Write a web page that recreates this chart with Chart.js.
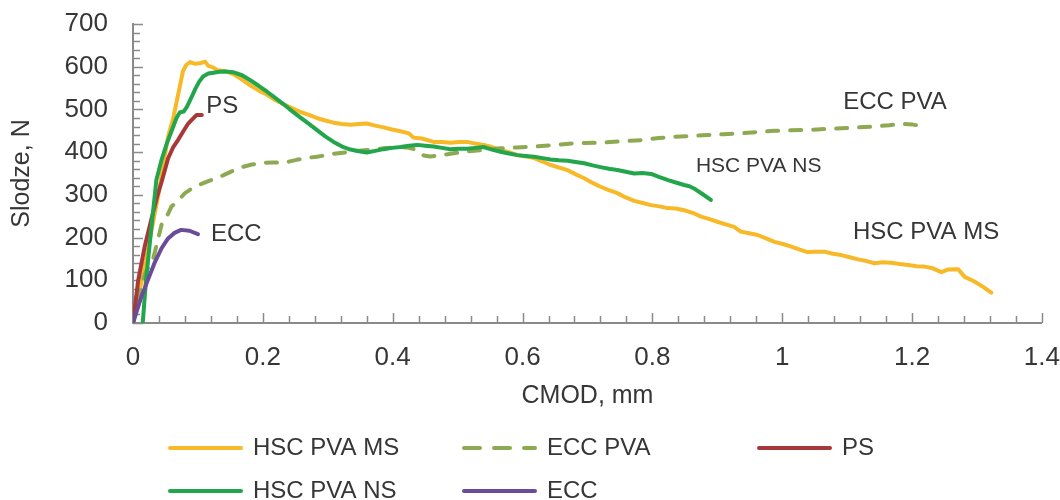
<!DOCTYPE html>
<html>
<head>
<meta charset="utf-8">
<script src="https://cdn.jsdelivr.net/npm/chart.js"></script>
<style>
  html, body { margin: 0; padding: 0; background: #fff; }
  #wrap { width: 1060px; height: 500px; position: relative; }
</style>
</head>
<body>
<div id="wrap"><canvas id="chart"></canvas></div>
<script>
// CMOD (mm) vs load (N) curves
const msX = [0, 0.02, 0.039, 0.054, 0.062, 0.07, 0.077, 0.082, 0.088, 0.095, 0.103, 0.111, 0.116, 0.124, 0.13, 0.142, 0.155, 0.168, 0.181, 0.194, 0.206, 0.219, 0.232, 0.245, 0.258, 0.271, 0.283, 0.296, 0.309, 0.322, 0.335, 0.348, 0.36, 0.373, 0.386, 0.399, 0.412, 0.425, 0.432, 0.445, 0.463, 0.476, 0.489, 0.502, 0.515, 0.527, 0.54, 0.553, 0.566, 0.579, 0.592, 0.605, 0.618, 0.631, 0.643, 0.656, 0.669, 0.682, 0.695, 0.708, 0.72, 0.733, 0.746, 0.759, 0.772, 0.785, 0.798, 0.811, 0.823, 0.836, 0.849, 0.862, 0.875, 0.888, 0.9, 0.913, 0.926, 0.936, 0.949, 0.962, 0.975, 0.988, 1.001, 1.014, 1.027, 1.039, 1.052, 1.065, 1.078, 1.091, 1.104, 1.117, 1.13, 1.142, 1.155, 1.168, 1.181, 1.194, 1.207, 1.219, 1.232, 1.245, 1.255, 1.271, 1.281, 1.296, 1.31, 1.322];
const msY = [0, 150, 300, 436, 480, 538, 590, 604, 611, 607, 608, 612, 602, 598, 592, 590, 582, 570, 556, 544, 535, 522, 512, 503, 494, 487, 480, 474, 469, 466, 464, 466, 467, 462, 458, 453, 449, 444, 434, 432, 424, 424, 422, 424, 424, 420, 417, 412, 405, 400, 393, 390, 386, 378, 370, 364, 358, 348, 339, 328, 319, 311, 304, 294, 286, 281, 276, 273, 269, 268, 264, 258, 249, 243, 237, 231, 225, 214, 210, 206, 198, 190, 185, 179, 172, 166, 167, 167, 162, 159, 154, 149, 145, 140, 142, 141, 138, 136, 133, 132, 128, 119, 125, 126, 108, 97, 84, 71];

const eccPvaX = [0, 0.008, 0.013, 0.02, 0.031, 0.044, 0.052, 0.059, 0.07, 0.08, 0.09, 0.1, 0.114, 0.129, 0.142, 0.155, 0.168, 0.183, 0.2, 0.215, 0.232, 0.252, 0.27, 0.283, 0.309, 0.335, 0.36, 0.386, 0.412, 0.425, 0.438, 0.448, 0.458, 0.472, 0.489, 0.515, 0.54, 0.566, 0.592, 0.618, 0.65, 0.684, 0.72, 0.75, 0.782, 0.81, 0.834, 0.86, 0.885, 0.91, 0.936, 0.962, 0.988, 1.013, 1.039, 1.065, 1.091, 1.117, 1.142, 1.165, 1.183, 1.2, 1.214];
const eccPvaY = [0, 46, 93, 120, 150, 230, 249, 272, 288, 304, 314, 322, 331, 339, 348, 357, 365, 371, 375, 376, 375, 382, 387, 389, 396, 401, 405, 409, 412, 410, 405, 392, 390, 392, 396, 402, 405, 409, 411, 413, 417, 421, 422, 425, 428, 433, 436, 438, 440, 442, 444, 447, 450, 451, 452, 454, 456, 458, 460, 463, 466, 465, 461];

const psX = [0, 0.008, 0.018, 0.027, 0.037, 0.044, 0.054, 0.062, 0.07, 0.078, 0.085, 0.092, 0.098, 0.106];
const psY = [0, 100, 179, 235, 295, 330, 385, 412, 430, 450, 467, 478, 487, 487];

const nsX = [0.015, 0.02, 0.028, 0.036, 0.044, 0.052, 0.06, 0.067, 0.072, 0.078, 0.083, 0.09, 0.096, 0.102, 0.108, 0.116, 0.124, 0.133, 0.142, 0.155, 0.168, 0.18, 0.193, 0.206, 0.219, 0.232, 0.245, 0.258, 0.271, 0.283, 0.296, 0.309, 0.322, 0.335, 0.348, 0.36, 0.373, 0.386, 0.399, 0.412, 0.425, 0.438, 0.45, 0.463, 0.476, 0.489, 0.502, 0.515, 0.527, 0.54, 0.553, 0.566, 0.579, 0.592, 0.605, 0.618, 0.631, 0.643, 0.656, 0.669, 0.682, 0.695, 0.708, 0.72, 0.733, 0.746, 0.759, 0.772, 0.785, 0.798, 0.81, 0.823, 0.836, 0.849, 0.857, 0.864, 0.877, 0.89];
const nsY = [0, 100, 218, 335, 382, 420, 452, 480, 493, 495, 506, 528, 548, 565, 577, 584, 586, 588, 589, 587, 580, 569, 556, 542, 527, 512, 496, 481, 466, 452, 437, 424, 413, 406, 402, 399, 403, 407, 410, 412, 415, 417, 415, 413, 410, 407, 408, 408, 410, 412, 406, 401, 397, 393, 391, 389, 386, 383, 381, 380, 377, 374, 369, 365, 361, 358, 354, 350, 351, 349, 342, 335, 329, 323, 320, 315, 302, 288];

const eccX = [0, 0.013, 0.023, 0.033, 0.044, 0.054, 0.064, 0.074, 0.087, 0.1];
const eccY = [0, 62, 101, 140, 175, 198, 211, 218, 216, 208];

const seriesNames = ['HSC PVA MS', 'ECC PVA', 'PS', 'HSC PVA NS', 'ECC'];
const seriesColors = ['#F7B928', '#8DAA52', '#A8393B', '#23A64B', '#6A4C98'];

// curve labels placed next to the lines: [text, cmod, load, font size]
const curveLabels = [
  ['PS', 0.113, 506, 24],
  ['ECC', 0.12, 208, 24],
  ['ECC PVA', 1.094, 517, 24],
  ['HSC PVA NS', 0.867, 368, 21],
  ['HSC PVA MS', 1.109, 213, 24]
];

const xTicks = { min: 0, max: 1.4, step: 0.2, minor: 0.04 };
const yTicks = { min: 0, max: 700, step: 100, minor: 20 };

const FONT = '"Liberation Sans", Arial, sans-serif';
const TEXT = '#363636';
const AXIS = '#8a8a8a';
const NONE = 'rgba(0,0,0,0)';

const zip = (xs, ys) => xs.map((x, i) => ({ x: x, y: ys[i] }));
const seriesData = [zip(msX, msY), zip(eccPvaX, eccPvaY), zip(psX, psY), zip(nsX, nsY), zip(eccX, eccY)];

const datasets = seriesNames.map((name, i) => ({
  label: name,
  data: seriesData[i],
  borderColor: seriesColors[i],
  backgroundColor: seriesColors[i],
  borderWidth: 4,
  borderDash: name === 'ECC PVA' ? [11, 12] : [],
  borderCapStyle: 'round',
  borderJoinStyle: 'round',
  pointRadius: 0,
  tension: 0,
  fill: false,
  order: seriesNames.length - i
}));

// small tick marks pointing into the plot, every minor step
const innerTicks = {
  id: 'innerTicks',
  beforeDatasetsDraw(chart) {
    const { ctx, chartArea: area, scales: { x, y } } = chart;
    ctx.save();
    ctx.strokeStyle = AXIS;
    ctx.lineWidth = 1.5;
    ctx.beginPath();
    const nx = Math.round((xTicks.max - xTicks.min) / xTicks.minor);
    const per = Math.round(xTicks.step / xTicks.minor);
    for (let i = 0; i <= nx; i++) {
      const px = Math.round(x.getPixelForValue(xTicks.min + i * xTicks.minor)) + 0.5;
      const len = i % per === 0 ? 10 : 7;
      ctx.moveTo(px, area.bottom);
      ctx.lineTo(px, area.bottom - len);
    }
    const ny = Math.round((yTicks.max - yTicks.min) / yTicks.minor);
    const perY = Math.round(yTicks.step / yTicks.minor);
    for (let i = 0; i <= ny; i++) {
      const py = Math.round(y.getPixelForValue(yTicks.min + i * yTicks.minor)) + 0.5;
      const len = i % perY === 0 ? 10 : 7;
      ctx.moveTo(area.left, py);
      ctx.lineTo(area.left + len, py);
    }
    ctx.stroke();
    ctx.restore();
  }
};

const curveText = {
  id: 'curveText',
  afterDatasetsDraw(chart) {
    const { ctx, scales: { x, y } } = chart;
    ctx.save();
    ctx.fillStyle = TEXT;
    ctx.textAlign = 'left';
    ctx.textBaseline = 'middle';
    curveLabels.forEach(([t, cx, cy, size]) => {
      ctx.font = size + 'px ' + FONT;
      ctx.fillText(t, x.getPixelForValue(cx), y.getPixelForValue(cy));
    });
    ctx.restore();
  }
};

// legend laid out in three columns under the axis title
const gridLegend = {
  id: 'gridLegend',
  afterDraw(chart) {
    const { ctx } = chart;
    const cols = [168, 462, 757];
    const rows = [448, 491];
    const lineLen = 75;
    ctx.save();
    ctx.font = '24px ' + FONT;
    ctx.textBaseline = 'middle';
    ctx.textAlign = 'left';
    chart.data.datasets.forEach((ds, i) => {
      const x0 = cols[i % 3];
      const y0 = rows[Math.floor(i / 3)];
      ctx.strokeStyle = ds.borderColor;
      ctx.lineWidth = 4;
      ctx.lineCap = 'round';
      ctx.setLineDash(ds.borderDash.length ? [16, 14] : []);
      ctx.beginPath();
      ctx.moveTo(x0 + 2, y0);
      ctx.lineTo(x0 + lineLen - 2, y0);
      ctx.stroke();
      ctx.setLineDash([]);
      ctx.fillStyle = TEXT;
      ctx.fillText(ds.label, x0 + lineLen + 10, y0);
    });
    ctx.restore();
  }
};

new Chart(document.getElementById('chart'), {
  type: 'line',
  data: { datasets: datasets },
  options: {
    responsive: true,
    maintainAspectRatio: false,
    animation: false,
    layout: { padding: { top: 24, right: 0, bottom: 87, left: 0 } },
    plugins: {
      legend: { display: false },
      tooltip: { enabled: false }
    },
    scales: {
      x: {
        type: 'linear',
        min: xTicks.min,
        max: xTicks.max,
        afterFit(scale) { scale.height = 90; },
        grid: { color: NONE, drawTicks: true, tickLength: 19 },
        border: { display: true, color: AXIS, width: 2 },
        ticks: {
          stepSize: xTicks.step,
          padding: 0,
          color: TEXT,
          font: { family: FONT, size: 26 },
          maxRotation: 0,
          callback: v => String(Number(v.toFixed(1)))
        },
        title: {
          display: true,
          text: 'CMOD, mm',
          color: TEXT,
          font: { family: FONT, size: 25 },
          padding: { top: 0, bottom: 2 }
        }
      },
      y: {
        type: 'linear',
        min: yTicks.min,
        max: yTicks.max,
        afterFit(scale) { scale.width = 133; },
        grid: { color: NONE, drawTicks: true, tickLength: 22 },
        border: { display: true, color: AXIS, width: 2 },
        ticks: {
          stepSize: yTicks.step,
          padding: 3,
          color: TEXT,
          font: { family: FONT, size: 26 }
        },
        title: {
          display: true,
          text: 'Slodze, N',
          color: TEXT,
          font: { family: FONT, size: 25 },
          padding: { top: 7, bottom: 0 }
        }
      }
    }
  },
  plugins: [innerTicks, curveText, gridLegend]
});
</script>
</body>
</html>
